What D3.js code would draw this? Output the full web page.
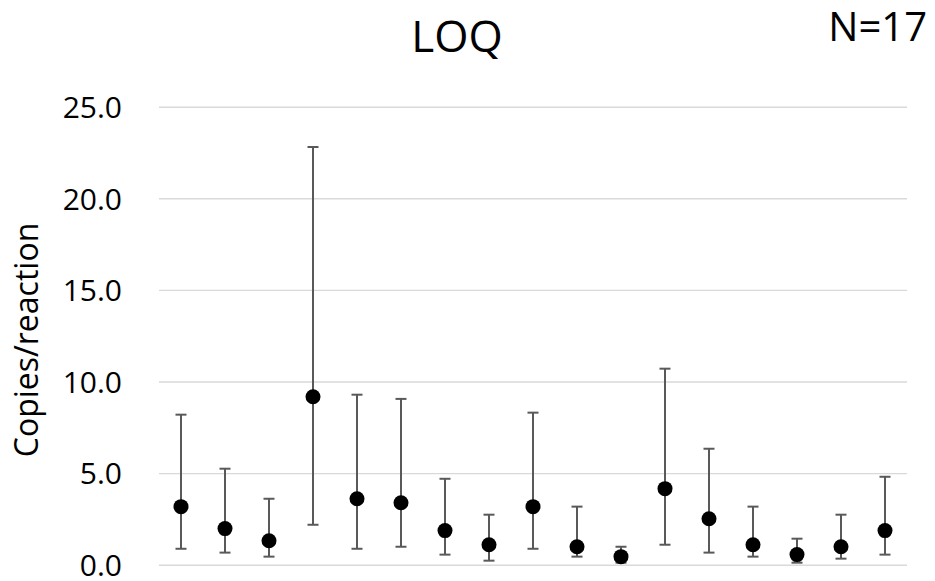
<!DOCTYPE html>
<html>
<head>
<meta charset="utf-8">
<script src="https://cdn.jsdelivr.net/npm/d3@7"></script>
<style>
  body { margin: 0; background: #fff; }
  text { font-family: "Open Sans", "Noto Sans", sans-serif; fill: #000; }
</style>
</head>
<body>
<script>
// muestras (sin etiquetas en el eje X)
var samples = d3.range(1, 18);
// valor medio por muestra
var means = [3.17, 1.97, 1.31, 9.17, 3.60, 3.38, 1.86, 1.09, 3.17, 0.98, 0.44, 4.15, 2.51, 1.09, 0.55, 0.98, 1.86];
// extremos de las barras de error
var lower = [0.87, 0.66, 0.44, 2.18, 0.87, 0.98, 0.55, 0.22, 0.87, 0.44, 0.11, 1.09, 0.66, 0.44, 0.11, 0.33, 0.55];
var upper = [8.19, 5.24, 3.60, 22.8, 9.28, 9.05, 4.69, 2.73, 8.30, 3.17, 0.98, 10.7, 6.33, 3.17, 1.42, 2.73, 4.80];
var yTicks = [0, 5, 10, 15, 20, 25];

var w = 935, h = 581;
var margin = {top: 106.7, right: 28, bottom: 16.3, left: 159};

var svg = d3.select("body")
  .append("svg")
    .attr("width", w)
    .attr("height", h);

var x = d3.scaleBand()
  .domain(samples)
  .range([margin.left, w - margin.right]);

var y = d3.scaleLinear()
  .domain([0, 25])
  .range([h - margin.bottom, margin.top]);

// lineas de la cuadricula
var yAxis = svg.append("g")
  .attr("transform", "translate(" + margin.left + ",0)")
  .call(d3.axisLeft(y)
    .tickValues(yTicks)
    .tickFormat(d3.format(".1f"))
    .tickSize(-(w - margin.right - margin.left))
    .tickPadding(37));
yAxis.select(".domain").remove();
yAxis.selectAll(".tick line")
  .attr("stroke", "#d9d9d9")
  .attr("stroke-width", 1.4);
yAxis.selectAll(".tick text")
  .attr("font-size", 30)
  .attr("fill", "#000")
  .attr("dy", "0.36em");

var data = samples.map(function(s, i) {
  return {s: s, m: means[i], lo: lower[i], hi: upper[i]};
});

var cap = 5.5;
var eb = svg.append("g").attr("stroke", "#595959").attr("stroke-width", 2);
var cx = function(d) { return x(d.s) + x.bandwidth() / 2; };

eb.selectAll("line.v").data(data).enter().append("line")
  .attr("x1", cx).attr("x2", cx)
  .attr("y1", function(d) { return y(d.lo); })
  .attr("y2", function(d) { return y(d.hi); });
eb.selectAll("line.top").data(data).enter().append("line")
  .attr("x1", function(d) { return cx(d) - cap; })
  .attr("x2", function(d) { return cx(d) + cap; })
  .attr("y1", function(d) { return y(d.hi); })
  .attr("y2", function(d) { return y(d.hi); });
eb.selectAll("line.bot").data(data).enter().append("line")
  .attr("x1", function(d) { return cx(d) - cap; })
  .attr("x2", function(d) { return cx(d) + cap; })
  .attr("y1", function(d) { return y(d.lo); })
  .attr("y2", function(d) { return y(d.lo); });

svg.append("g").selectAll("circle")
  .data(data)
  .enter()
    .append("circle")
    .attr("cx", cx)
    .attr("cy", function(d) { return y(d.m); })
    .attr("r", 7.5)
    .attr("fill", "#000");

// titulos
svg.append("text")
  .attr("x", 457).attr("y", 52)
  .attr("text-anchor", "middle")
  .attr("font-size", 44)
  .text("LOQ");

svg.append("text")
  .attr("x", 927).attr("y", 41)
  .attr("text-anchor", "end")
  .attr("font-size", 40)
  .text("N=17");

svg.append("text")
  .attr("transform", "translate(38,340) rotate(-90)")
  .attr("text-anchor", "middle")
  .attr("font-size", 32)
  .text("Copies/reaction");
</script>
</body>
</html>
